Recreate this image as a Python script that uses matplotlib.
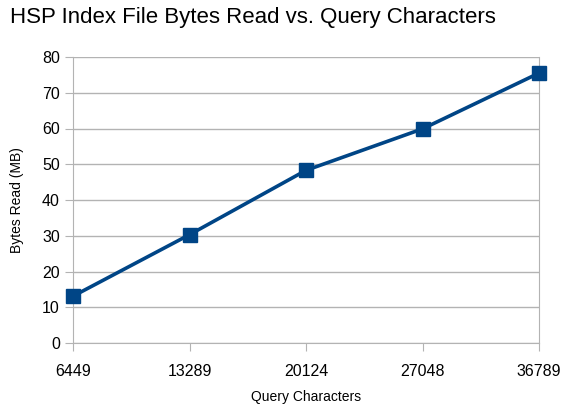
import matplotlib
matplotlib.use("Agg")
import matplotlib.pyplot as plt

# data
query_chars = ["6449", "13289", "20124", "27048", "36789"]
bytes_read = [13.1, 30.3, 48.3, 59.9, 75.5]

plt.rcParams['font.family'] = ['Liberation Sans', 'DejaVu Sans']

fig = plt.figure(figsize=(5.64, 4.09), dpi=100)
ax = fig.add_axes([73/564, 1-343/409, (539-73)/564, (343-57)/409])

x = list(range(len(query_chars)))
ax.plot(x, bytes_read, color='#004586', lw=2.6, marker='s', ms=9.5, zorder=3, clip_on=False)

ax.set_xlim(0, len(query_chars)-1)
ax.set_ylim(0, 80)
ax.set_xticks(x)
ax.set_xticklabels(query_chars)
ax.set_yticks(range(0, 81, 10))
ax.yaxis.grid(True, color='#b3b3b3', lw=1)
ax.set_axisbelow(True)
ax.spines['top'].set_visible(False)
for s in ['left', 'right', 'bottom']:
    ax.spines[s].set_color('#b3b3b3')
ax.tick_params(colors='#b3b3b3', labelcolor='black', labelsize=11.5, length=6, direction='out')
ax.tick_params(axis='x', pad=9)
fig.text(306/564, 1-397/409, 'Query Characters', fontsize=10, ha='center', va='center')
fig.text(17/564, 1-200/409, 'Bytes Read (MB)', fontsize=10, ha='center', va='center', rotation=90)
fig.text(10/564, 1-18/409, 'HSP Index File Bytes Read vs. Query Characters', fontsize=16, va='center')

fig.savefig('out.png')
